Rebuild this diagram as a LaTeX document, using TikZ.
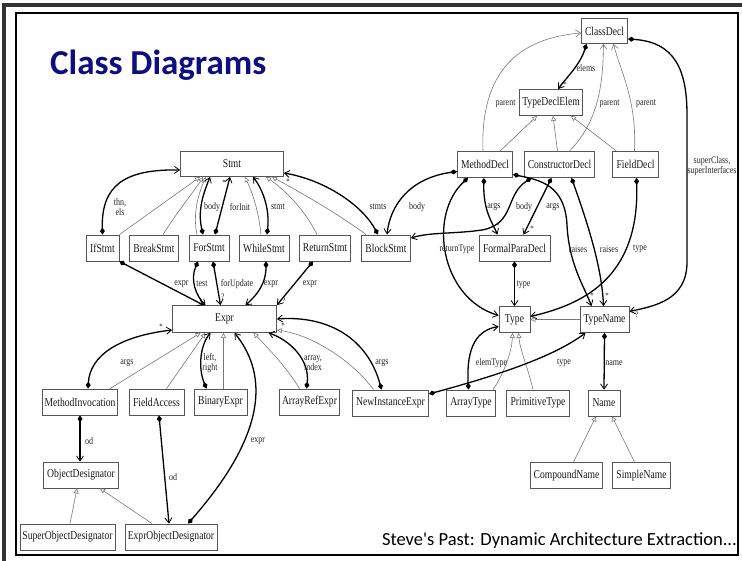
\documentclass[tikz,border=0pt]{standalone}
\usepackage{fontspec}
\setmainfont{Liberation Serif}
\newfontfamily\dgfont[FakeStretch=0.8]{Liberation Serif}
\newfontfamily\slidefont[Ligatures=TeXOff]{Carlito}
\usetikzlibrary{arrows.meta}
\definecolor{titleblue}{RGB}{14,14,128}
\definecolor{boxline}{RGB}{85,85,85}
\definecolor{inhline}{RGB}{120,120,120}
\tikzset{
  box/.style={draw=boxline, line width=0.8pt, fill=white, inner sep=0pt,
    minimum height=26pt, font=\dgfont\fontsize{12}{13}\selectfont, text=black!90},
  lab/.style={font=\dgfont\fontsize{10}{10.5}\selectfont, text=black!85, inner sep=0pt, align=center},
  mult/.style={font=\dgfont\fontsize{8.5}{8.5}\selectfont, text=black!85, inner sep=0pt},
  comp/.style={line width=1.3pt, black,
    {Diamond[length=7pt,width=5pt]}-{Straight Barb[length=5pt,width=7pt,line width=0.8pt]}},
  inh/.style={line width=0.6pt, inhline, -{Triangle[open,length=5pt,width=5pt,line width=0.6pt]}},
  par/.style={line width=0.6pt, inhline, -{Straight Barb[length=5pt,width=7pt,line width=0.6pt]}},
}
\begin{document}
\begin{tikzpicture}[x=1pt,y=-1pt]
\useasboundingbox (0,0) rectangle (742,561);
\fill[white] (0,0) rectangle (742,561);
% slide frame
\draw[line width=4pt, black!80] (4,561) -- (4,5) -- (742,5);
\draw[line width=1.2pt] (16,13) rectangle (738,555);

\node[anchor=base west, inner sep=0pt, font=\slidefont\bfseries\fontsize{35}{40}\selectfont,
  text=titleblue] (title) at (50,75) {Class Diagrams};
\node[anchor=base east, inner sep=0pt, font=\slidefont\fontsize{18.5}{20}\selectfont]
  (footer) at (737,545) {Steve's Past: Dynamic Architecture Extraction...};

% classes
\node[box, minimum width=103pt, minimum height=25pt] (Stmt) at (232,164) {Stmt};
\node[box, minimum width=33pt] (IfStmt) at (102.5,248) {IfStmt};
\node[box, minimum width=49pt] (BreakStmt) at (154,248) {BreakStmt};
\node[box, minimum width=40pt] (ForStmt) at (209,248) {ForStmt};
\node[box, minimum width=50pt] (WhileStmt) at (264,248) {WhileStmt};
\node[box, minimum width=51pt] (ReturnStmt) at (325,248) {ReturnStmt};
\node[box, minimum width=49pt] (BlockStmt) at (386,248) {BlockStmt};
\node[box, minimum width=104pt, minimum height=27pt] (Expr) at (224.5,319) {Expr};
\node[box, minimum width=75pt] (MethodInvocation) at (80,402) {MethodInvocation};
\node[box, minimum width=55pt] (FieldAccess) at (156.5,402) {FieldAccess};
\node[box, minimum width=53pt] (BinaryExpr) at (220.5,402) {BinaryExpr};
\node[box, minimum width=60pt] (ArrayRefExpr) at (309.5,402) {ArrayRefExpr};
\node[box, minimum width=76pt] (NewInstanceExpr) at (390.5,403) {NewInstanceExpr};
\node[box, minimum width=49pt] (ArrayType) at (471,403) {ArrayType};
\node[box, minimum width=63pt] (PrimitiveType) at (538,403) {PrimitiveType};
\node[box, minimum width=32pt] (Name) at (604,403) {Name};
\node[box, minimum width=72pt] (CompoundName) at (566.5,475.5) {CompoundName};
\node[box, minimum width=58pt] (SimpleName) at (641.5,475.5) {SimpleName};
\node[box, minimum width=75pt] (ObjectDesignator) at (81,475) {ObjectDesignator};
\node[box, minimum width=95pt] (SuperObjectDesignator) at (67.5,537) {SuperObjectDesignator};
\node[box, minimum width=92pt] (ExprObjectDesignator) at (171,537) {ExprObjectDesignator};
\node[box, minimum width=46pt, minimum height=25pt] (ClassDecl) at (604.5,31) {ClassDecl};
\node[box, minimum width=63pt] (TypeDeclElem) at (551,102.5) {TypeDeclElem};
\node[box, minimum width=55pt] (MethodDecl) at (485,164.5) {MethodDecl};
\node[box, minimum width=70pt] (ConstructorDecl) at (559.5,164.5) {ConstructorDecl};
\node[box, minimum width=46pt] (FieldDecl) at (635.5,164.5) {FieldDecl};
\node[box, minimum width=71pt] (FormalParaDecl) at (514.5,248) {FormalParaDecl};
\node[box, minimum width=31pt] (Type) at (514.5,319.5) {Type};
\node[box, minimum width=49pt] (TypeName) at (604.5,319.5) {TypeName};

% statements
\draw[comp] (IfStmt.north) .. controls (101,185) and (125,169) .. ([yshift=-6pt]Stmt.west);
\draw[inh] (IfStmt.north east) -- ([xshift=-32pt]Stmt.south);
\draw[inh] ([xshift=9pt]BreakStmt.north) .. controls (175,215) and (195,190) .. ([xshift=-29pt]Stmt.south);
\draw[inh] ([xshift=-12pt]ForStmt.north) .. controls (192,212) and (200,190) .. ([xshift=-26pt]Stmt.south);
\draw[comp] ([xshift=-6pt]ForStmt.north) .. controls (197,208) and (205,190) .. ([xshift=-22pt]Stmt.south);
\draw[comp] ([xshift=6pt]ForStmt.north) -- ([xshift=-2pt]Stmt.south);
\draw[inh] ([xshift=-3pt]WhileStmt.north) .. controls (258,205) and (250,188) .. ([xshift=13pt]Stmt.south);
\draw[comp] ([xshift=3pt]WhileStmt.north) .. controls (270,208) and (262,188) .. ([xshift=21pt]Stmt.south);
\draw[inh] ([xshift=-8pt]ReturnStmt.north) .. controls (305,210) and (285,190) .. ([xshift=34pt]Stmt.south);
\draw[inh] ([xshift=-20pt]BlockStmt.north) .. controls (340,215) and (300,192) .. ([xshift=40pt]Stmt.south);
\draw[comp] ([xshift=-8pt]BlockStmt.north) .. controls (362,205) and (325,180) .. ([yshift=-9pt]Stmt.east);

% declarations
\draw[comp] ([yshift=-7pt]MethodDecl.west) .. controls (410,178) and (390,205) .. ([xshift=1pt]BlockStmt.north);
\draw[comp] ([xshift=-28pt]ConstructorDecl.south) .. controls (505,195) and (515,224) .. (482,230)
  .. controls (455,234) and (430,232) .. ([yshift=10pt]BlockStmt.east);
\draw[comp] ([xshift=-17pt]MethodDecl.south) .. controls (428,215) and (440,298) .. ([yshift=4pt]Type.west);
\draw[comp] ([xshift=-1pt]MethodDecl.south) .. controls (483,210) and (492,222) .. ([xshift=-17pt]FormalParaDecl.north);
\draw[comp] ([xshift=-8pt]ConstructorDecl.south) -- ([xshift=9pt]FormalParaDecl.north);
\draw[comp] ([yshift=-10pt]MethodDecl.east) .. controls (540,180) and (565,185) .. (567,225)
  .. controls (569,265) and (585,288) .. ([xshift=-13pt]TypeName.north);
\draw[comp] ([xshift=12pt]ConstructorDecl.south) .. controls (590,230) and (602,270) .. ([xshift=-1pt]TypeName.north);
\draw[comp] ([xshift=1pt]FieldDecl.south) .. controls (640,280) and (580,305) .. ([yshift=3pt]Type.east);
\draw[comp] ([yshift=-8pt]ClassDecl.east) .. controls (675,42) and (687,70) .. (687,115) -- (687,262)
  .. controls (687,300) and (655,306) .. ([yshift=8pt]TypeName.east);
\draw[comp] (FormalParaDecl.south) -- (Type.north);
\draw[inh] (TypeName.west) -- (Type.east);
\draw[comp] ([xshift=-2.5pt]ArrayType.north) .. controls (466,345) and (478,330) .. ([yshift=-7pt]Type.west);
\draw[inh] ([xshift=22pt]ArrayType.north) .. controls (505,372) and (512,350) .. ([xshift=-2pt]Type.south);
\draw[inh] ([xshift=-5pt]PrimitiveType.north) .. controls (528,368) and (520,350) .. ([xshift=4pt]Type.south);
\draw[comp] ([yshift=9pt]NewInstanceExpr.east) .. controls (480,380) and (550,360) .. ([xshift=-19pt]TypeName.south);
\draw[comp] (TypeName.south) -- (Name.north);
\draw[inh] ([xshift=7pt]CompoundName.north) -- ([xshift=-8pt]Name.south);
\draw[inh] ([xshift=-7pt]SimpleName.north) -- ([xshift=8pt]Name.south);
\draw[par] ([xshift=-2pt]MethodDecl.north) .. controls (480,70) and (520,38) .. ([yshift=-2pt]ClassDecl.west);
\draw[par] ([xshift=10pt]ConstructorDecl.north) .. controls (600,120) and (603,80) .. ([xshift=-1pt]ClassDecl.south);
\draw[par] ([xshift=-1pt]FieldDecl.north) .. controls (637,100) and (620,70) .. ([xshift=9pt]ClassDecl.south);
\draw[comp] ([xshift=-18pt]ClassDecl.south) .. controls (580,65) and (566,78) .. ([xshift=7pt]TypeDeclElem.north);
\draw[inh] ([xshift=15pt]MethodDecl.north) -- ([xshift=-14pt]TypeDeclElem.south);
\draw[inh] ([xshift=-2pt]ConstructorDecl.north) -- ([xshift=2pt]TypeDeclElem.south);
\draw[inh] ([xshift=-19pt]FieldDecl.north) -- ([xshift=20pt]TypeDeclElem.south);

% expressions
\draw[comp] (IfStmt.south east) -- ([xshift=-21pt]Expr.north);
\draw[comp] ([xshift=-11pt]ForStmt.south) .. controls (190,280) and (196,296) .. ([xshift=-19pt]Expr.north);
\draw[comp] ([xshift=4pt]ForStmt.south) -- ([xshift=-4pt]Expr.north);
\draw[comp] ([xshift=2pt]WhileStmt.south) .. controls (266,285) and (255,297) .. ([xshift=21pt]Expr.north);
\draw[comp] ([xshift=-12pt]ReturnStmt.south) -- (Expr.north east);
\draw[comp] ([xshift=8pt]MethodInvocation.north) .. controls (90,355) and (120,336) .. ([yshift=-11pt]Expr.west);
\draw[inh] ([xshift=30pt]MethodInvocation.north) -- ([xshift=-24pt]Expr.south);
\draw[inh] ([xshift=10pt]FieldAccess.north) -- ([xshift=-19pt]Expr.south);
\draw[comp] ([xshift=-14pt]BinaryExpr.north) .. controls (198,368) and (200,345) .. ([xshift=-14pt]Expr.south);
\draw[inh] ([xshift=3pt]BinaryExpr.north) -- ([xshift=-1pt]Expr.south);
\draw[comp] ([xshift=17pt]ExprObjectDesignator.north) .. controls (235,470) and (285,395) .. ([xshift=10pt]Expr.south);
\draw[inh] ([xshift=-10pt]ArrayRefExpr.north) .. controls (285,365) and (265,345) .. ([xshift=29pt]Expr.south);
\draw[comp] ([xshift=-3pt]ArrayRefExpr.north) .. controls (310,360) and (290,340) .. ([xshift=44pt]Expr.south);
\draw[inh] ([xshift=-17pt]NewInstanceExpr.north) .. controls (350,358) and (310,335) .. ([yshift=-11pt]Expr.east);
\draw[comp] ([xshift=-9pt]NewInstanceExpr.north) .. controls (368,340) and (330,315) .. (Expr.east);
\draw[comp] (MethodInvocation.south) -- ([xshift=-1pt]ObjectDesignator.north);
\draw[comp] ([xshift=2.5pt]FieldAccess.south) -- ([xshift=-2pt]ExprObjectDesignator.north);
\draw[inh] ([xshift=2.5pt]SuperObjectDesignator.north) -- ([xshift=-4pt]ObjectDesignator.south);
\draw[inh] ([xshift=-19pt]ExprObjectDesignator.north) -- ([xshift=19pt]ObjectDesignator.south);

% role names
\node[lab] (lThn) at (120,207) {thn,\\els};
\node[lab] (lBody1) at (212,207) {body};
\node[lab] (lForInit) at (240,207) {forInit};
\node[lab] (lStmt) at (278,207) {stmt};
\node[lab] (lStmts) at (378,207) {stmts};
\node[lab] (lBody2) at (417,207) {body};
\node[lab] (lBody3) at (524,207) {body};
\node[lab] (lArgs1) at (494,207) {args};
\node[lab] (lArgs2) at (553,207) {args};
\node[lab] (lRet) at (457,249) {returnType};
\node[lab] (lRaises1) at (578,249) {raises};
\node[lab] (lRaises2) at (609,249) {raises};
\node[lab] (lType1) at (640,249) {type};
\node[lab] (lSuper) at (712,166) {superClass,\\superInterfaces};
\node[lab] (lType2) at (523.5,285) {type};
\node[lab] (lElemType) at (491.5,363) {elemType};
\node[lab] (lType3) at (564,363) {type};
\node[lab] (lName) at (614,363) {name};
\node[lab] (lParent1) at (505.5,104) {parent};
\node[lab] (lParent2) at (609.5,104) {parent};
\node[lab] (lParent3) at (646,104) {parent};
\node[lab] (lElems) at (586,68) {elems};
\node[lab] (lExpr1) at (181.5,284) {expr};
\node[lab] (lTest) at (202,284) {test};
\node[lab] (lForUpdate) at (237,284) {forUpdate};
\node[lab] (lExpr2) at (271,284) {expr};
\node[lab] (lExpr3) at (310,284) {expr};
\node[lab] (lArgs3) at (127,363) {args};
\node[lab] (lLeftRight) at (210,363) {left,\\right};
\node[lab] (lArrayIndex) at (313,363) {array,\\index};
\node[lab] (lArgs4) at (382,363) {args};
\node[lab] (lOd1) at (89,441) {od};
\node[lab] (lOd2) at (173,477) {od};
\node[lab] (lExpr4) at (258,441) {expr};

% multiplicities
\node[mult] (mForInit) at (224,183) {*};
\node[mult] (mStmts) at (288,182) {*};
\node[mult] (mArgs1) at (498,226) {*};
\node[mult] (mArgs2) at (532,229) {*};
\node[mult] (mRaises1) at (592,296) {*};
\node[mult] (mRaises2) at (607,296) {*};
\node[mult] (mSuper) at (637,315) {?};
\node[mult] (mElems) at (565,85) {*};
\node[mult] (mForUpdate) at (223,297) {?};
\node[mult] (mRet) at (284,301) {?};
\node[mult] (mArgs3) at (161,327) {*};
\node[mult] (mArgs4) at (283,326) {*};
\end{tikzpicture}
\end{document}
